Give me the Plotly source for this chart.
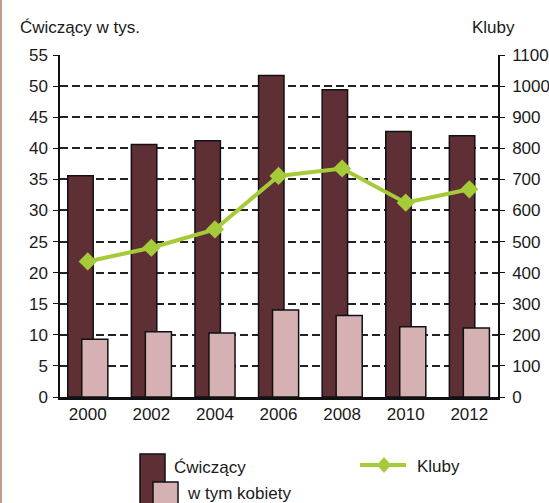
import plotly.graph_objects as go

years = ["2000", "2002", "2004", "2006", "2008", "2010", "2012"]
cwiczacy = [35.6, 40.6, 41.2, 51.7, 49.4, 42.7, 42.0]
kobiety = [9.3, 10.5, 10.3, 14.0, 13.1, 11.3, 11.1]
kluby = [436, 480, 539, 711, 735, 625, 668]

FONT = "Liberation Sans Narrow, Arial Narrow, Liberation Sans, Arial, sans-serif"
FS = 17
TXT = "#1a1a1a"
DARK = "#5E2F35"
PINK = "#D5B1B4"
GREEN = "#A6CB39"

W, H = 549, 503
L, R, T, B = 60, 51, 55, 106
PW, PH = W - L - R, H - T - B


def px(x):
    return (x - L) / PW


def py(y):
    return (T + PH - y) / PH


fig = go.Figure()
fig.add_trace(go.Bar(
    x=years, y=cwiczacy, name="Ćwiczący",
    marker=dict(color=DARK, line=dict(color="#111111", width=1.5)),
    width=0.40, offset=-0.314,
))
fig.add_trace(go.Scatter(
    x=years, y=kluby, name="Kluby", yaxis="y2", mode="lines+markers",
    line=dict(color=GREEN, width=4),
    marker=dict(symbol="diamond", size=14, color=GREEN),
))
fig.add_trace(go.Bar(
    x=years, y=kobiety, name="w tym kobiety",
    marker=dict(color=PINK, line=dict(color="#111111", width=1.5)),
    width=0.41, offset=-0.094,
))

shapes = [
    # left page border
    dict(type="rect", xref="paper", yref="paper",
         x0=px(0), x1=px(2), y0=py(H), y1=py(0),
         fillcolor="#C49A8E", line=dict(width=0), layer="above"),
    # legend swatches
    dict(type="rect", xref="paper", yref="paper",
         x0=px(140), x1=px(165), y0=py(506), y1=py(454),
         fillcolor=DARK, line=dict(color="#111111", width=1.5)),
    dict(type="rect", xref="paper", yref="paper",
         x0=px(153), x1=px(178), y0=py(506), y1=py(482),
         fillcolor=PINK, line=dict(color="#111111", width=1.5)),
    dict(type="line", xref="paper", yref="paper",
         x0=px(360), x1=px(406), y0=py(465), y1=py(465),
         line=dict(color=GREEN, width=4)),
    dict(type="path", xref="paper", yref="paper",
         path="M {} {} L {} {} L {} {} L {} {} Z".format(
             px(384), py(457), px(391), py(465), px(384), py(473), px(377), py(465)),
         fillcolor=GREEN, line=dict(width=0)),
]

annotations = [
    dict(text="Ćwiczący w tys.", xref="paper", yref="paper",
         x=px(18), y=py(28), xanchor="left", yanchor="middle",
         showarrow=False, font=dict(family=FONT, size=FS, color=TXT)),
    dict(text="Kluby", xref="paper", yref="paper",
         x=px(517), y=py(28), xanchor="right", yanchor="middle",
         showarrow=False, font=dict(family=FONT, size=FS, color=TXT)),
    dict(text="Ćwiczący", xref="paper", yref="paper",
         x=px(172), y=py(467), xanchor="left", yanchor="middle",
         showarrow=False, font=dict(family=FONT, size=FS, color=TXT)),
    dict(text="w tym kobiety", xref="paper", yref="paper",
         x=px(185), y=py(493), xanchor="left", yanchor="middle",
         showarrow=False, font=dict(family=FONT, size=FS, color=TXT)),
    dict(text="Kluby", xref="paper", yref="paper",
         x=px(415), y=py(466), xanchor="left", yanchor="middle",
         showarrow=False, font=dict(family=FONT, size=FS, color=TXT)),
]

fig.update_layout(
    width=W, height=H,
    margin=dict(l=L, r=R, t=T, b=B, pad=0, autoexpand=False),
    paper_bgcolor="white", plot_bgcolor="white",
    barmode="overlay",
    font=dict(family=FONT, size=FS, color=TXT),
    showlegend=False,
    xaxis=dict(
        type="category", range=[-0.436, 6.451],
        showgrid=False, showline=True, linecolor="#111111", linewidth=2.5,
        ticks="", tickfont=dict(size=FS), fixedrange=True,
    ),
    yaxis=dict(
        range=[0, 55], dtick=5, tick0=0,
        showgrid=True, gridcolor="#222222", gridwidth=1.6, griddash="8px,4px",
        showline=True, linecolor="#111111", linewidth=1.5,
        ticks="outside", ticklen=5, tickcolor="#111111",
        zeroline=False, ticklabelstandoff=2,
    ),
    yaxis2=dict(
        range=[0, 1100], dtick=100, tick0=0, overlaying="y", side="right",
        showgrid=False, showline=True, linecolor="#111111", linewidth=1.5,
        ticks="outside", ticklen=5, tickcolor="#111111",
        zeroline=False, ticklabelstandoff=4,
    ),
    annotations=annotations,
    shapes=shapes,
)

fig.write_html(
    "out.html",
    config={"displayModeBar": False},
    post_script="document.body.style.margin='0';document.body.style.overflow='hidden';",
)
